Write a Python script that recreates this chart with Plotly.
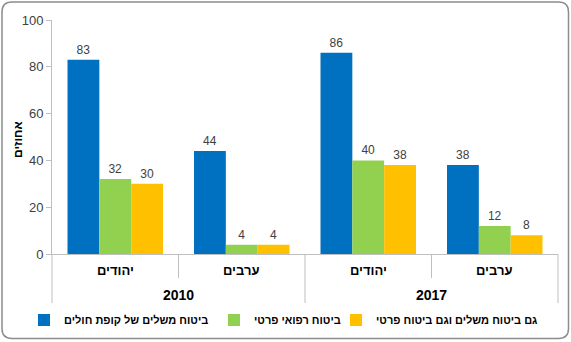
import plotly.graph_objects as go

years = ["2010", "2010", "2017", "2017"]
groups = ["יהודים", "ערבים", "יהודים", "ערבים"]
year_labels = ["2010", "2017"]
series_names = ["ביטוח משלים של קופת חולים", "ביטוח רפואי פרטי", "גם ביטוח משלים וגם ביטוח פרטי"]
supplementary = [83, 44, 86, 38]
private_ins = [32, 4, 40, 12]
both = [30, 4, 38, 8]
series_values = [supplementary, private_ins, both]
colors = ["#0070C0", "#92D050", "#FFC000"]
y_title = "אחוזים"

W, H = 571, 342
ML, MR, MT, MB = 52, 13, 20, 88
PW, PH = W - ML - MR, H - MT - MB


def px(xp):
    return (xp - ML) / PW


def py(yp):
    return (H - MB - yp) / PH


legend_ids = ["legend", "legend2", "legend3"]
legend_symbol_centers = [46, 236, 358]

fig = go.Figure()
for name, vals, col, lid in zip(series_names, series_values, colors, legend_ids):
    fig.add_trace(go.Bar(
        x=[years, groups], y=vals, name=name, marker_color=col,
        marker_line_width=0, legend=lid,
        text=[str(v) for v in vals], textposition="outside",
        textfont=dict(size=12, color="#404040"), cliponaxis=False,
    ))

shapes = []
# rounded border around the whole chart
x0, x1, y0, y1, r = 2, 568.5, 2, 338.5, 10
path = (
    f"M {px(x0 + r)},{py(y0)} L {px(x1 - r)},{py(y0)} "
    f"Q {px(x1)},{py(y0)} {px(x1)},{py(y0 + r)} L {px(x1)},{py(y1 - r)} "
    f"Q {px(x1)},{py(y1)} {px(x1 - r)},{py(y1)} L {px(x0 + r)},{py(y1)} "
    f"Q {px(x0)},{py(y1)} {px(x0)},{py(y1 - r)} L {px(x0)},{py(y0 + r)} "
    f"Q {px(x0)},{py(y0)} {px(x0 + r)},{py(y0)} Z"
)
shapes.append(dict(type="path", path=path, xref="paper", yref="paper",
                   line=dict(color="#8c8c8c", width=1.5), layer="below"))

# category dividers
n = len(groups)
for i in range(n + 1):
    outer = (i % 2 == 0)
    shapes.append(dict(type="line", xref="paper", yref="paper",
                       x0=i / n, x1=i / n, y0=0, y1=py(303 if outer else 278),
                       line=dict(color="#bfbfbf", width=1)))

annotations = [dict(text=y_title, xref="paper", yref="paper", x=px(18), y=py(140),
                    textangle=-90, showarrow=False, font=dict(size=12, weight="bold"),
                    xanchor="center", yanchor="middle")]
for i, g in enumerate(groups):
    annotations.append(dict(text=g, xref="paper", yref="paper", x=(i + 0.5) / n, y=py(270),
                            showarrow=False, font=dict(size=13, weight="bold"),
                            xanchor="center", yanchor="middle"))
for j, yl in enumerate(year_labels):
    annotations.append(dict(text=yl, xref="paper", yref="paper", x=(2 * j + 1) / n, y=py(295),
                            showarrow=False, font=dict(size=14, weight="bold"),
                            xanchor="center", yanchor="middle"))

legend_layouts = {}
for lid, sc in zip(legend_ids, legend_symbol_centers):
    legend_layouts[lid] = dict(orientation="h", x=px(sc - 22), xanchor="left",
                               y=py(320), yanchor="middle", itemwidth=30,
                               font=dict(size=11, weight="bold"), bgcolor="rgba(0,0,0,0)")

fig.update_layout(
    width=W, height=H,
    margin=dict(l=ML, r=MR, t=MT, b=MB, autoexpand=False),
    paper_bgcolor="white", plot_bgcolor="white",
    font=dict(family="Liberation Sans, Arial, sans-serif", color="#000000"),
    barmode="group", bargap=0.245, bargroupgap=0,
    showlegend=True,
    xaxis=dict(type="multicategory", showline=True, linecolor="#bfbfbf", linewidth=1,
               ticks="", showticklabels=False, showdividers=False, showgrid=False,
               automargin=False),
    yaxis=dict(range=[0, 100], dtick=20, showline=True, linecolor="#bfbfbf", linewidth=1,
               ticks="outside", ticklen=5, tickcolor="#bfbfbf", showgrid=False, zeroline=False,
               tickfont=dict(size=13, color="#404040"), automargin=False),
    shapes=shapes,
    annotations=annotations,
    **legend_layouts,
)

fig.write_html("out.html")
